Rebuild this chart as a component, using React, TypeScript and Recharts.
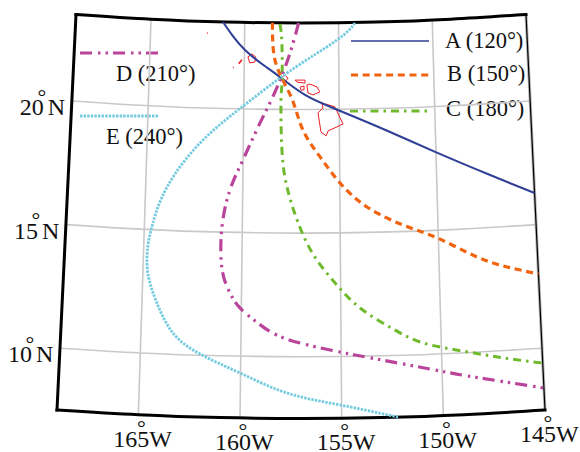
import { Customized, Line, LineChart, XAxis, YAxis } from "recharts";

type LonLat = [number, number];

// map window
const lonWest = -169;
const lonEast = -145;
const latSouth = 7.5;
const latNorth = 23.5;

const lonTicks = [-165, -160, -155, -150, -145];
const latTicks = [10, 15, 20];
const lonLabels = ["165", "160", "155", "150", "145"];
const latLabels = ["10", "15", "20"];
const parallelSteps = [-169, -165, -161, -157, -153, -149, -145];

const seriesNames = ["A (120°)", "B (150°)", "C (180°)", "D (210°)", "E (240°)"];

// ray paths as [lon, lat]
const rayA: LonLat[] = [
  [-161.16, 23.5], [-160.62, 22.94], [-159.97, 22.39], [-159.06, 21.83], [-158.11, 21.31],
  [-156.79, 20.59], [-155.07, 19.97], [-152.36, 19.04], [-150.04, 18.17], [-147.24, 17.12], [-145, 16.28],
];
const rayB: LonLat[] = [
  [-158.52, 23.5], [-158.49, 22.6], [-158.21, 21.6], [-157.47, 20.42],
  [-156.9, 19.17], [-156.01, 18.08], [-154.99, 17.02], [-153.61, 16.03], [-151.78, 15.26],
  [-150.06, 14.69], [-148.06, 13.84], [-146.56, 13.37], [-145, 13.0],
];
const rayC: LonLat[] = [
  [-158.12, 23.46], [-158.01, 22.6], [-158, 21.07], [-158.05, 20.38], [-157.99, 18.36],
  [-157.72, 16.86], [-157.2, 15.53], [-156.39, 14.15], [-155.28, 12.98],
  [-154.03, 11.95], [-152.39, 11.07], [-150.91, 10.47], [-148.93, 10.07], [-146.94, 9.71], [-145, 9.4],
];
const rayD: LonLat[] = [
  [-157.13, 23.5], [-157.42, 22.69], [-157.95, 21.48], [-158.63, 20.26], [-159.24, 19.28],
  [-160.06, 17.85], [-160.66, 16.71], [-161.04, 15.2], [-161, 13.51],
  [-160.58, 12.55], [-160.07, 11.95], [-159.16, 11.35], [-157.7, 10.71], [-155.06, 10.18],
  [-153.22, 9.87], [-150.1, 9.31], [-148.47, 9.01], [-145, 8.39],
];
const rayE: LonLat[] = [
  [-154.12, 23.48], [-155.09, 22.8], [-157.58, 21.56], [-160.09, 20.08],
  [-162.25, 18.58], [-163.9, 16.75], [-164.57, 15.27], [-164.79, 14.33], [-164.75, 13.24],
  [-164.25, 12.05], [-163.4, 10.86], [-162.03, 10.05], [-160.03, 9.32], [-157.69, 8.53],
  [-155.08, 8.04], [-152.23, 7.5],
];

// coastlines
const hawaii: LonLat[] = [
  [-155.9, 20.26], [-155.22, 20.1], [-154.96, 19.66], [-154.81, 19.41], [-155.12, 19.29],
  [-155.59, 19.13], [-155.69, 18.93], [-155.96, 19.09], [-156.11, 19.86], [-155.85, 20.06], [-155.9, 20.26],
];
const maui: LonLat[] = [
  [-156.69, 20.99], [-156.53, 21.03], [-156.16, 20.91], [-156.01, 20.71], [-156.37, 20.59], [-156.63, 20.67], [-156.69, 20.99],
];
const molokai: LonLat[] = [
  [-157.31, 21.19], [-156.79, 21.19], [-156.79, 21.07], [-157.21, 21.11], [-157.31, 21.19],
];
const lanai: LonLat[] = [
  [-157.05, 20.91], [-156.84, 20.95], [-156.84, 20.8], [-157.0, 20.78], [-157.05, 20.91],
];
const oahu: LonLat[] = [
  [-158.1, 21.27], [-157.85, 21.39], [-157.68, 21.27], [-157.85, 21.11], [-158.1, 21.27],
];
const kauai: LonLat[] = [
  [-159.81, 22.11], [-159.6, 22.23], [-159.39, 22.11], [-159.44, 21.91], [-159.71, 21.87], [-159.81, 22.11],
];
const niihau: LonLat[] = [[-160.29, 21.83], [-160.13, 21.99]];
const kaula: LonLat[] = [[-160.6, 21.67], [-160.56, 21.68]];
const nihoa: LonLat[] = [[-162.0, 23.03], [-161.96, 23.04]];
const islands = [hawaii, maui, molokai, lanai, oahu, kauai, niihau, kaula, nihoa];

// conic-looking map projection, fitted to the frame and graticule
function project([lon, lat]: LonLat) {
  const u = (lon + 157) / 12;
  const v = (lat - latSouth) / (latNorth - latSouth);
  return {
    x: 301 + u * (244 - 19 * v),
    y: 418.5 - 395.5 * v - 8.5 * u * u,
  };
}
const toPlane = (pts: LonLat[]) => pts.map(project);

const rays = [
  { name: seriesNames[0], pts: rayA, color: "#2f3f96", width: 2.1, keyWidth: 1.6, dash: undefined },
  { name: seriesNames[1], pts: rayB, color: "#f0640f", width: 3.2, keyWidth: 3.2, dash: "7 4.7" },
  { name: seriesNames[2], pts: rayC, color: "#6fb92d", width: 3, keyWidth: 3, dash: "8 5 2.5 5" },
  { name: seriesNames[3], pts: rayD, color: "#bb449b", width: 3.2, keyWidth: 3.2, dash: "12 6 2.5 5 2.5 5" },
  { name: seriesNames[4], pts: rayE, color: "#74cbe0", width: 2.8, keyWidth: 2.8, dash: "2.4 1.2" },
];

const legendSpots = [
  { keyX: 351, keyY: 41, textX: 445, textY: 48 },
  { keyX: 351, keyY: 75, textX: 447, textY: 81 },
  { keyX: 350, keyY: 111, textX: 446, textY: 116 },
  { keyX: 80, keyY: 53, textX: 116, textY: 81 },
  { keyX: 80, keyY: 116, textX: 106, textY: 144 },
];

const serif = "'Liberation Serif', serif";

const lonLabelRows = lonTicks.map((lon, i) => ({ ...project([lon, latSouth]), text: lonLabels[i] }));
const latLabelRows = latTicks.map((lat, i) => ({ ...project([lonWest, lat]), text: latLabels[i] }));

const frameSides = [
  parallelSteps.map((lon) => [lon, latSouth] as LonLat),
  [[lonWest, latSouth], [lonWest, latNorth]] as LonLat[],
  parallelSteps.map((lon) => [lon, latNorth] as LonLat),
];

function MapLegend() {
  return (
    <g>
      {rays.map((r, i) => {
        const s = legendSpots[i];
        return (
          <g key={r.name}>
            <line x1={s.keyX} x2={s.keyX + 78} y1={s.keyY} y2={s.keyY} stroke={r.color} strokeWidth={r.keyWidth} strokeDasharray={r.dash} />
            <text x={s.textX} y={s.textY} fontFamily={serif} fontSize={22.5} fill="#111">
              {r.name}
            </text>
          </g>
        );
      })}
    </g>
  );
}

export default function App() {
  return (
    <div style={{ position: "absolute", left: 0, top: 0 }}>
      <LineChart width={580} height={452} margin={{ top: 0, right: 0, bottom: 0, left: 0 }}>
        <XAxis type="number" dataKey="x" domain={[0, 580]} hide />
        <YAxis type="number" dataKey="y" domain={[0, 452]} reversed hide />

        {/* graticule */}
        {lonTicks.slice(0, 4).map((lon) => (
          <Line
            key={lon}
            data={toPlane([[lon, latSouth], [lon, latNorth]])}
            dataKey="y"
            stroke="#c9c9c9"
            strokeWidth={1.6}
            dot={false}
            activeDot={false}
            isAnimationActive={false}
          />
        ))}
        {latTicks.map((lat) => (
          <Line
            key={lat}
            data={toPlane(parallelSteps.map((lon) => [lon, lat] as LonLat))}
            dataKey="y"
            type="natural"
            stroke="#c9c9c9"
            strokeWidth={1.6}
            dot={false}
            activeDot={false}
            isAnimationActive={false}
          />
        ))}

        {/* frame */}
        <Line
          data={toPlane([[lonEast, latSouth], [lonEast, latNorth]])}
          dataKey="y"
          stroke="#b5b5b5"
          strokeWidth={3}
          dot={false}
          activeDot={false}
          isAnimationActive={false}
        />
        <Line
          data={toPlane([[lonEast, latSouth], [lonEast, latNorth]])}
          dataKey="y"
          stroke="#000"
          strokeWidth={1.2}
          dot={false}
          activeDot={false}
          isAnimationActive={false}
        />
        {frameSides.map((side, i) => (
          <Line
            key={i}
            data={toPlane(side)}
            dataKey="y"
            type="natural"
            stroke="#000"
            strokeWidth={3}
            strokeLinecap="square"
            dot={false}
            activeDot={false}
            isAnimationActive={false}
          />
        ))}

        {islands.map((pts, i) => (
          <Line
            key={i}
            data={toPlane(pts)}
            dataKey="y"
            stroke="#ee1c25"
            strokeWidth={i > 5 ? 1.6 : 1}
            dot={false}
            activeDot={false}
            isAnimationActive={false}
          />
        ))}

        {rays.map((r) => (
          <Line
            key={r.name}
            name={r.name}
            data={toPlane(r.pts)}
            dataKey="y"
            type="natural"
            stroke={r.color}
            strokeWidth={r.width}
            strokeDasharray={r.dash}
            dot={false}
            activeDot={false}
            isAnimationActive={false}
          />
        ))}

        {/* tick labels, hung off invisible series so they follow the projection */}
        <Line
          data={lonLabelRows}
          dataKey="y"
          stroke="none"
          activeDot={false}
          isAnimationActive={false}
          dot={(p: any) => (
            <text key={p.payload.text} x={p.cx - 25} y={p.cy + 32} fontFamily={serif} fontSize={24} fill="#111">
              {p.payload.text}
              <tspan dx={-12.4} dy={-12} fontSize={22}>°</tspan>
              <tspan dx={3.6} dy={12}>W</tspan>
            </text>
          )}
        />
        <Line
          data={latLabelRows}
          dataKey="y"
          stroke="none"
          activeDot={false}
          isAnimationActive={false}
          dot={(p: any) => (
            <text key={p.payload.text} x={p.cx - 52} y={p.cy + 14} fontFamily={serif} fontSize={24} fill="#111">
              {p.payload.text}
              <tspan dx={-6.4} dy={-11.5} fontSize={22}>°</tspan>
              <tspan dx={1.6} dy={11.5}>N</tspan>
            </text>
          )}
        />

        <Customized component={MapLegend} />
      </LineChart>
    </div>
  );
}
